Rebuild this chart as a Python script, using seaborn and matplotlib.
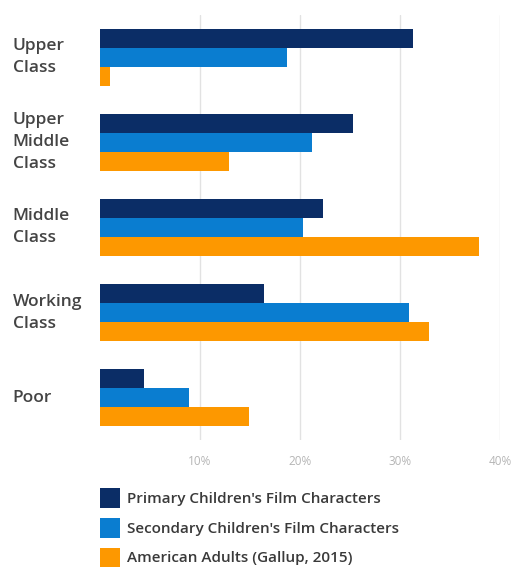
import matplotlib
matplotlib.use("Agg")
import matplotlib.pyplot as plt
import seaborn as sns
import pandas as pd

categories = ["Upper\nClass", "Upper\nMiddle\nClass", "Middle\nClass", "Working\nClass", "Poor"]
series = ["Primary Children's Film Characters",
          "Secondary Children's Film Characters",
          "American Adults (Gallup, 2015)"]
primary = [31.3, 25.3, 22.3, 16.4, 4.4]
secondary = [18.7, 21.2, 20.3, 30.9, 8.9]
adults = [1.0, 12.9, 37.9, 32.9, 14.9]
x_ticks = [10, 20, 30, 40]
x_tick_labels = ["10%", "20%", "30%", "40%"]
colors = ["#0b2d66", "#0a7dd0", "#fd9800"]

rows = []
for s, vals in zip(series, [primary, secondary, adults]):
    for c, v in zip(categories, vals):
        rows.append({"cat": c, "series": s, "value": v})
df = pd.DataFrame(rows)

sns.set_style("white")
plt.rcParams["font.family"] = ["Open Sans", "DejaVu Sans"]

fig = plt.figure(figsize=(5.18, 5.67), dpi=100)
W, H = 518, 567
ax = fig.add_axes([100 / W, 1 - 440 / H, 400 / W, 425 / H])

sns.barplot(data=df, x="value", y="cat", hue="series", orient="h",
            palette=colors, width=0.67, saturation=1, ax=ax,
            order=categories, hue_order=series, linewidth=0)

ax.set_xlim(0, 40)
ax.set_ylim(4.5, -0.5)
ax.set_xticks(x_ticks)
ax.set_xticklabels(x_tick_labels)
ax.set_xlabel("")
ax.set_ylabel("")
ax.grid(axis="x", color="#e2e2e2", linewidth=1)
ax.set_axisbelow(True)
for sp in ax.spines.values():
    sp.set_visible(False)

ax.tick_params(axis="x", length=0, pad=11, labelsize=8.5, labelcolor="#b5b5b5")
ax.tick_params(axis="y", length=0, pad=63, labelsize=12.5, labelcolor="#444444")
for lab in ax.get_yticklabels():
    lab.set_horizontalalignment("left")
    lab.set_verticalalignment("center")
    lab.set_linespacing(1.5)
    lab.set_fontweight("semibold")

sns.move_legend(ax, loc="upper left", bbox_to_anchor=(94 / W, 1 - 482 / H),
                bbox_transform=fig.transFigure, frameon=False, title=None,
                fontsize=11, handlelength=1.3, handleheight=1.63,
                handletextpad=0.45, labelspacing=0.64, borderaxespad=0)
for t in ax.get_legend().get_texts():
    t.set_color("#3a3a3a")
    t.set_fontweight("semibold")

fig.savefig("out.png", dpi=100)
